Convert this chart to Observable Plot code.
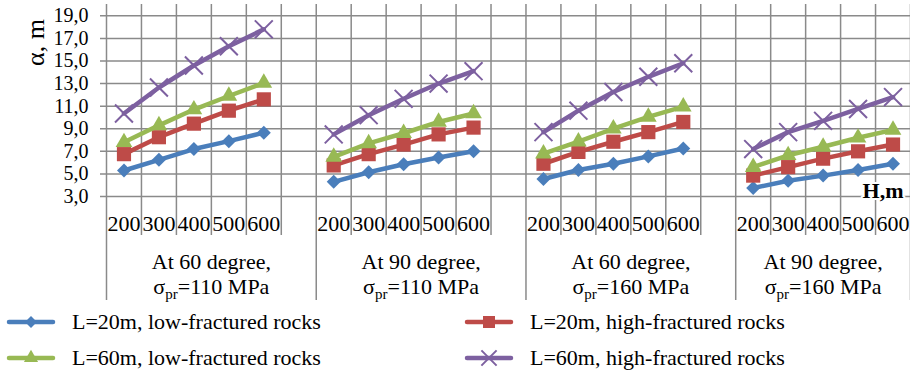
<!DOCTYPE html>
<html><head><meta charset="utf-8">
<script src="https://cdn.jsdelivr.net/npm/d3@7"></script>
<script src="https://cdn.jsdelivr.net/npm/@observablehq/plot@0.6"></script>
<style>
body{margin:0;background:#fff;}
#wrap{position:relative;width:910px;height:372px;font-family:"Liberation Serif","Times New Roman",serif;background:#fff;}
#wrap svg.chart{position:absolute;left:0;top:0;}
.leg{position:absolute;display:flex;align-items:center;font-size:22px;white-space:nowrap;color:#000;}
.leg svg{overflow:visible;}
</style></head><body><div id="wrap"></div>
<script>
// ---- data ----
const depths = [200, 300, 400, 500, 600];
const panelLine1 = ["At 60 degree,", "At 90 degree,", "At 60 degree,", "At 90 degree,"];
const panelLine2 = ["σpr=110 MPa", "σpr=110 MPa", "σpr=160 MPa", "σpr=160 MPa"];
const seriesNames = ["L=20m, low-fractured rocks", "L=20m, high-fractured rocks", "L=60m, low-fractured rocks", "L=60m, high-fractured rocks"];
const seriesColors = ["#4A7EBB", "#BE4B48", "#98B954", "#7D60A0"];
const seriesSymbols = ["diamond2", "square", "triangle", "times"];
const l20Low  = [[5.3, 6.25, 7.2, 7.9, 8.65], [4.3, 5.15, 5.85, 6.45, 7.0], [4.55, 5.35, 5.9, 6.55, 7.25], [3.75, 4.4, 4.85, 5.35, 5.9]];
const l20High = [[6.75, 8.25, 9.45, 10.6, 11.6], [5.75, 6.75, 7.6, 8.5, 9.1], [5.9, 6.95, 7.85, 8.7, 9.6], [4.85, 5.6, 6.35, 7.0, 7.6]];
const l60Low  = [[7.8, 9.3, 10.7, 11.9, 13.05], [6.5, 7.7, 8.6, 9.6, 10.35], [6.8, 7.85, 9.0, 10.05, 10.95], [5.6, 6.65, 7.4, 8.2, 8.9]];
const l60High = [[10.35, 12.65, 14.6, 16.3, 17.8], [8.5, 10.2, 11.65, 13.0, 14.1], [8.7, 10.6, 12.25, 13.6, 14.8], [7.2, 8.7, 9.7, 10.75, 11.8]];
const yTicks = [3, 5, 7, 9, 11, 13, 15, 17, 19];
const yLabel = "α, m";
const xLabel = "H,m";

// ---- derived tables ----
const seriesValues = [l20Low, l20High, l60Low, l60High];
const symbolR = {diamond2: 6.3, square: 8, triangle: 6.2, times: 8.2};
const groupSizes = panelLine1.map((_, g) => g < panelLine1.length - 1 ? depths.length + 1 : depths.length);
const groupStart = groupSizes.map((_, g) => d3.sum(groupSizes.slice(0, g)));
const total = d3.sum(groupSizes);
const rows = [];
seriesValues.forEach((sv, s) => sv.forEach((vals, g) => vals.forEach((v, k) =>
  rows.push({s, g, key: s + "-" + g, x: groupStart[g] + k + 0.5, v}))));
const tickRows = [];
panelLine1.forEach((_, g) => depths.forEach((h, k) => tickRows.push({x: groupStart[g] + k + 0.5, label: String(h)})));
const groupRows = panelLine1.map((l1, g) => ({x: groupStart[g] + groupSizes[g] / 2, l1, l2: panelLine2[g]}));
const boundaries = d3.range(total + 1);
const isLong = b => groupStart.includes(b) || b === total;
const shortLines = boundaries.filter(b => !isLong(b));
const longLines = boundaries.filter(isLong);

const grid = "#8a8a8a";
const marks = [
  Plot.ruleY(yTicks, {stroke: grid, strokeWidth: 1.5, insetLeft: -6}),
  Plot.ruleX(shortLines, {stroke: grid, strokeWidth: 1.5, insetBottom: -39}),
  Plot.ruleX(longLines, {stroke: grid, strokeWidth: 1.5, insetBottom: -104}),
  Plot.text(tickRows, {x: "x", text: "label", frameAnchor: "bottom", lineAnchor: "middle", dy: 27, fontSize: 22, fill: "#000"}),
  Plot.text(groupRows, {x: "x", text: "l1", frameAnchor: "bottom", lineAnchor: "middle", dy: 65, fontSize: 22, fill: "#000"}),
  Plot.text(groupRows, {x: "x", text: "l2", frameAnchor: "bottom", lineAnchor: "middle", dy: 90, fontSize: 22, fill: "#000"})
];
seriesValues.forEach((_, s) => {
  const data = rows.filter(d => d.s === s);
  const sym = seriesSymbols[s];
  marks.push(Plot.line(data, {x: "x", y: "v", z: "key", stroke: seriesColors[s], strokeWidth: 4.5, strokeLinejoin: "round", strokeLinecap: "round"}));
  if (sym === "times") {
    marks.push(Plot.dot(data, {x: "x", y: "v", symbol: sym, r: symbolR[sym], stroke: seriesColors[s], strokeWidth: 2, fill: "none"}));
  } else {
    marks.push(Plot.dot(data, {x: "x", y: "v", symbol: sym, r: symbolR[sym], fill: seriesColors[s], stroke: "none"}));
  }
});
marks.push(Plot.text([xLabel], {text: d => d, frameAnchor: "bottom-right", lineAnchor: "middle", dx: -7, dy: -6, textAnchor: "end", fontWeight: "bold", fontSize: 22, fill: "#000", stroke: "white", strokeWidth: 4}));
marks.push(Plot.text([yLabel], {text: d => d, frameAnchor: "top-left", lineAnchor: "middle", textAnchor: "middle", dx: -71, dy: 38, rotate: -90, fontSize: 26, fill: "#000"}));

const svg = Plot.plot({
  width: 910, height: 305,
  marginLeft: 106, marginRight: 0, marginTop: 4, marginBottom: 109,
  style: {fontFamily: "Liberation Serif", fontSize: "20px", color: "#000", background: "transparent", overflow: "visible"},
  x: {domain: [0, total], axis: null},
  y: {domain: [3, 20], ticks: yTicks, tickFormat: d => d.toFixed(1).replace(".", ","), tickSize: 0, tickPadding: 18, label: null},
  marks
});
svg.classList.add("chart");
d3.select(svg).selectAll("text").each(function() {
  const t = this.textContent;
  if (t.startsWith("σpr")) {
    const sel = d3.select(this);
    sel.text(null);
    sel.append("tspan").text("σ");
    sel.append("tspan").attr("font-size", "15px").attr("dy", 5).text("pr");
    sel.append("tspan").attr("dy", -5).text(t.slice(3));
  }
});
const wrap = document.getElementById("wrap");
wrap.appendChild(svg);

// ---- legend ----
const symMap = {diamond2: d3.symbolDiamond2, square: d3.symbolSquare, triangle: d3.symbolTriangle, times: d3.symbolTimes};
const legPos = [{left: 7, top: 322}, {left: 465, top: 322}, {left: 7, top: 358}, {left: 465, top: 358}];
seriesNames.forEach((name, s) => {
  const div = document.createElement("div");
  div.className = "leg";
  div.style.left = legPos[s].left + "px";
  div.style.top = (legPos[s].top - 14) + "px";
  div.style.height = "28px";
  const sym = seriesSymbols[s];
  const r = symbolR[sym] * 0.85;
  const path = d3.symbol(symMap[sym], Math.PI * r * r)();
  const markerAttrs = sym === "times"
    ? `fill="none" stroke="${seriesColors[s]}" stroke-width="2"`
    : `fill="${seriesColors[s]}"`;
  div.innerHTML = `<svg width="48" height="28"><line x1="2" x2="46" y1="14" y2="14" stroke="${seriesColors[s]}" stroke-width="4.5" stroke-linecap="round"/><path transform="translate(24,14)" d="${path}" ${markerAttrs}/></svg><span style="margin-left:17px">${name}</span>`;
  wrap.appendChild(div);
});
</script></body></html>
